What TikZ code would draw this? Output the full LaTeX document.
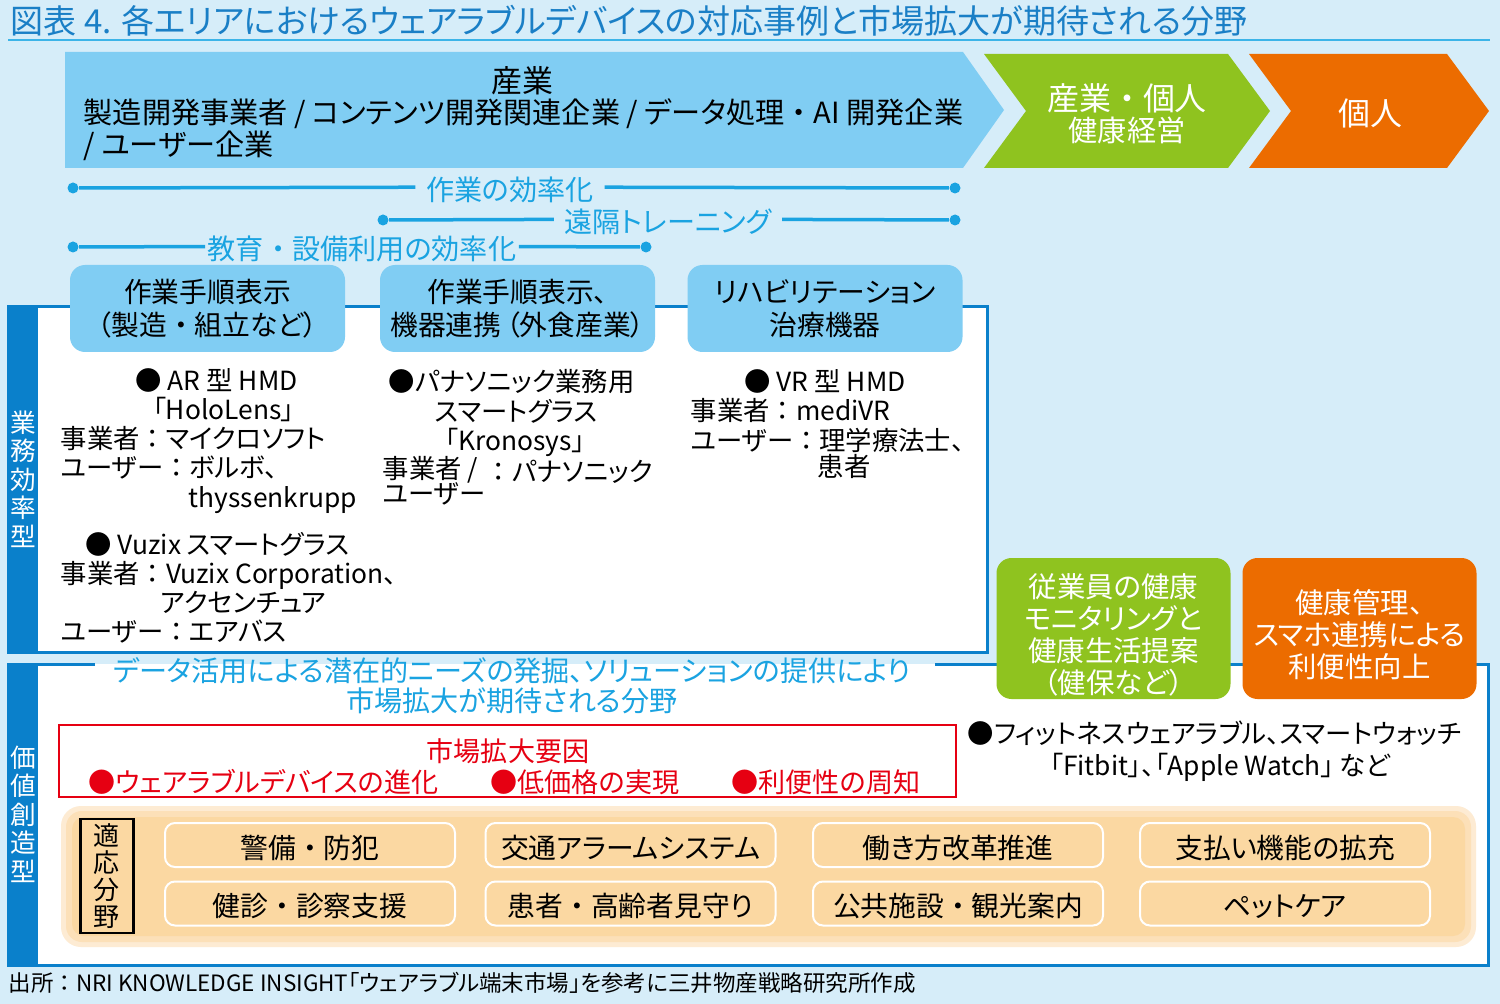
\documentclass[tikz,border=0pt]{standalone}
\usepackage{fontspec}
\setmainfont{Noto Sans CJK JP}[RawFeature=+palt]
\newfontfamily\fwfont{Noto Sans CJK JP}
\usepackage{tikz}
\usetikzlibrary{positioning, calc}
\definecolor{wrbBack}{HTML}{D6EDF9}
\definecolor{wrbTitle}{HTML}{1A7FC6}
\definecolor{wrbRule}{HTML}{3CB4E8}
\definecolor{wrbSky}{HTML}{80CDF3}
\definecolor{wrbGreen}{HTML}{8FC31F}
\definecolor{wrbOrange}{HTML}{EC6C00}
\definecolor{wrbCyan}{HTML}{1AA3E1}
\definecolor{wrbFrame}{HTML}{0A80CB}
\definecolor{wrbRed}{HTML}{E60012}
\definecolor{wrbSand}{HTML}{FBD8A2}
\definecolor{wrbSandMid}{HTML}{FCE0B8}
\definecolor{wrbSandEdge}{HTML}{FDEBD3}
\newcommand{\fsz}[2]{\fontsize{#1}{#2}\selectfont}
\newcommand{\fwdot}{{\fwfont ・}}
\newcommand{\fwcol}{{\fwfont ：}}

\begin{document}
\begin{tikzpicture}[
  x=0.1mm, y=-0.1mm,
  txt/.style={inner sep=0pt, text height=0.88em, text depth=0.12em, font=\fsz{7.5pt}{8.3pt}},
  case/.style={txt, anchor=west},
  chevtext/.style={inner sep=0pt, text height=0.88em, text depth=0.12em},
  head/.style={
    rectangle, rounded corners=1.5mm, fill=wrbSky,
    minimum width=27.5mm, minimum height=8.7mm,
    align=center, font=\fsz{7.9pt}{9.4pt}, inner sep=0pt,
  },
  tldot/.style={circle, fill=wrbCyan, inner sep=0pt, minimum size=1.1mm},
  tlline/.style={wrbCyan, line width=0.35mm},
  tllabel/.style={txt, text=wrbCyan, inner xsep=1mm, font=\fsz{8pt}{8.3pt}},
  frame/.style={wrbFrame, line width=0.3mm},
  sidelabel/.style={text=white, align=center, inner sep=0pt, font=\fsz{7.3pt}{8.1pt}},
  field/.style={
    rectangle, rounded corners=1mm, draw=white, line width=0.2mm, fill=wrbSand,
    minimum width=29mm, minimum height=4.4mm, inner sep=0pt,
    text height=0.88em, text depth=0.12em, font=\fsz{7.9pt}{8.3pt},
  },
  goal/.style={rectangle, rounded corners=1.5mm, minimum width=23.4mm, minimum height=14.1mm},
  goaltext/.style={align=center, text=white, inner sep=0pt, font=\fsz{8.1pt}{9.1pt}},
]
% Background and title
\fill[wrbBack] (0,0) rectangle (1500,1004);
\useasboundingbox (0,0) rectangle (1500,1004);
\node[anchor=west, inner sep=0pt, text=wrbTitle, font=\fsz{9.4pt}{9.5pt}] (title) at (10,21)
  {図表 4. 各エリアにおけるウェアラブルデバイスの対応事例と市場拡大が期待される分野};
\draw[wrbRule, line width=0.25mm] (8,40) -- (1490,40);

% Chevrons
\fill[wrbSky] (65,52) -- (963,52) -- (1004,110) -- (963,168) -- (65,168) -- cycle;
\fill[wrbGreen] (984,54) -- (1228,54) -- (1270,111) -- (1228,168) -- (984,168) -- (1026,111) -- cycle;
\fill[wrbOrange] (1249,54) -- (1447,54) -- (1489,111) -- (1447,168) -- (1249,168) -- (1291,111) -- cycle;
\node[chevtext, font=\fsz{8.8pt}{9pt}] (industry) at (522,79) {産業};
\node[chevtext, anchor=west, font=\fsz{8.3pt}{9pt}] (makers) at (83,110)
  {製造開発事業者 / コンテンツ開発関連企業 / データ処理\fwdot AI 開発企業};
\node[chevtext, anchor=west, font=\fsz{8.3pt}{9pt}] (userco) at (83,142) {/ ユーザー企業};
\node[chevtext, text=white, font=\fsz{9.1pt}{9pt}] (mixed) at (1127,97) {産業\fwdot 個人};
\node[chevtext, text=white, font=\fsz{8.3pt}{9pt}] (health) at (1127,128) {健康経営};
\node[chevtext, text=white, font=\fsz{9.1pt}{9pt}] (person) at (1370,112) {個人};

% Timelines
\node[tldot] (eff1) at (73,188) {};
\node[tldot] (eff2) at (955,188) {};
\node[tllabel] (efflbl) at (510,187) {作業の効率化};
\draw[tlline] (eff1) -- (efflbl) -- (eff2);
\node[tldot] (rem1) at (383,220) {};
\node[tldot] (rem2) at (955,220) {};
\node[tllabel] (remlbl) at (668,219) {遠隔トレーニング};
\draw[tlline] (rem1) -- (remlbl) -- (rem2);
\node[tldot] (edu1) at (73,247) {};
\node[tldot] (edu2) at (646,247) {};
\node[tllabel, inner xsep=0.2mm] (edulbl) at (362,246) {教育\fwdot 設備利用の効率化};
\draw[tlline] (edu1) -- (edulbl) -- (edu2);

% Upper frame
\fill[white] (8,307) rectangle (987,652);
\fill[wrbFrame] (8,307) rectangle (38,652);
\draw[frame] (8,307) rectangle (987,652);
\node[sidelabel] (efftype) at (23,479) {業\\務\\効\\率\\型};

\node[head] (procA) at (207.5,308.5) {作業手順表示\\（製造\fwdot 組立など）};
\node[head] (procB) at (517.5,308.5) {作業手順表示、\\機器連携\,（外食産業）};
\node[head] (rehab) at (825,308.5) {リハビリテーション\\治療機器};

% Cases
\node[case] (arhmd) at (135,377) {● AR 型 HMD};
\node[case] (hololens) at (152,406) {「HoloLens」};
\node[case] (armaker) at (60,435) {事業者\fwcol マイクロソフト};
\node[case] (aruser) at (60,464) {ユーザー\fwcol ボルボ、};
\node[case] (aruser2) at (188,494) {thyssenkrupp};
\node[case] (vuzix) at (85,541) {● Vuzix スマートグラス};
\node[case] (vzmaker) at (60,570) {事業者\fwcol Vuzix Corporation、};
\node[case] (vzmaker2) at (160,599) {アクセンチュア};
\node[case] (vzuser) at (60,628) {ユーザー\fwcol エアバス};

\node[case] (pana) at (388,378) {●パナソニック業務用};
\node[txt] (panaglass) at (516,408) {スマートグラス};
\node[txt] (kronosys) at (515,437) {「Kronosys」};
\node[case] (pnmaker) at (382,465) {事業者 /};
\node[case] (pnuser) at (382,490) {ユーザー};
\node[case] (pnname) at (485,468) {\fwcol パナソニック};

\node[txt] (vrhmd) at (825,378) {● VR 型 HMD};
\node[case] (vrmaker) at (690,407) {事業者\fwcol mediVR};
\node[case] (vruser) at (690,437) {ユーザー\fwcol 理学療法士、};
\node[case] (vruser2) at (817,463) {患者};

% Lower frame
\fill[white] (8,664) rectangle (1488,965);
\fill[wrbFrame] (8,664) rectangle (38,965);
\draw[frame] (95,664) -- (8,664) -- (8,965) -- (1488,965) -- (1488,664) -- (935,664);
\node[sidelabel] (valtype) at (23,814) {価\\値\\創\\造\\型};

\node[goal, fill=wrbGreen] (staff) at (1113.5,628.5) {};
\node[goaltext] at ([yshift=-0.6mm]staff.center) (stafftext) {従業員の健康\\モニタリングと\\健康生活提案\\（健保など）};
\node[goal, fill=wrbOrange] (phone) at (1359.5,628.5) {};
\node[goaltext] at ([yshift=-0.6mm]phone.center) (phonetext) {健康管理、\\スマホ連携による\\利便性向上};
\node[case] (fitness) at (967,730) {●フィットネスウェアラブル、スマートウォッチ};
\node[txt] (fitbit) at (1220,762) {「Fitbit」、「Apple Watch」 など};

\node[align=center, text=wrbCyan, inner sep=0pt, font=\fsz{8pt}{8.6pt}] (needs) at (512,686)
  {データ活用による潜在的ニーズの発掘、ソリューションの提供により\\市場拡大が期待される分野};

\node[draw=wrbRed, line width=0.25mm, minimum width=89.7mm, minimum height=7.2mm] (drivers) at (507.5,761) {};
\node[txt, text=wrbRed, font=\fsz{7.7pt}{8.3pt}] (drvtitle) at (508,748) {市場拡大要因};
\node[case, text=wrbRed, font=\fsz{7.7pt}{8.3pt}] (drv1) at (88,779) {●ウェアラブルデバイスの進化};
\node[case, text=wrbRed, font=\fsz{7.7pt}{8.3pt}] (drv2) at (490,779) {●低価格の実現};
\node[case, text=wrbRed, font=\fsz{7.7pt}{8.3pt}] (drv3) at (731,779) {●利便性の周知};

% Application fields
\fill[wrbSandEdge, rounded corners=2mm] (61,806) rectangle (1476,947);
\fill[wrbSandMid, rounded corners=1.6mm] (66,811) rectangle (1471,942);
\fill[wrbSand, rounded corners=1.2mm] (72,817) rectangle (1465,936);
\node[draw=black, line width=0.25mm, minimum width=5.3mm, minimum height=11.4mm,
  align=center, inner sep=0pt, font=\fsz{7.4pt}{7.7pt}] (fieldtag) at (107,876) {適\\応\\分\\野};
\node[field] (guard) at (310,845) {警備\fwdot 防犯};
\node[field] (traffic) at (630.5,845) {交通アラームシステム};
\node[field] (workstyle) at (958,845) {働き方改革推進};
\node[field] (payment) at (1285,845) {支払い機能の拡充};
\node[field] (checkup) at (310,903.5) {健診\fwdot 診察支援};
\node[field] (elderly) at (630.5,903.5) {患者\fwdot 高齢者見守り};
\node[field] (tourism) at (958,903.5) {公共施設\fwdot 観光案内};
\node[field] (petcare) at (1285,903.5) {ペットケア};

% Source
\node[anchor=west, inner sep=0pt, font=\fsz{6.4pt}{7pt}] (source) at (8,983)
  {出所\fwcol NRI KNOWLEDGE INSIGHT「ウェアラブル端末市場」を参考に三井物産戦略研究所作成};
\end{tikzpicture}
\end{document}
